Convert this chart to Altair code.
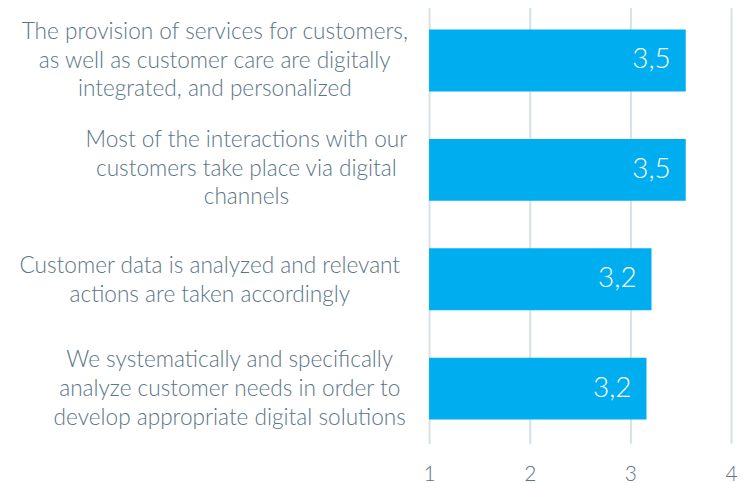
import altair as alt
import pandas as pd

categories = [
    "The provision of services for customers,\nas well as customer care are digitally\nintegrated, and personalized",
    "Most of the interactions with our\ncustomers  take place via digital\nchannels",
    "Customer data is analyzed and relevant\nactions are taken accordingly",
    "We systematically and specifically\nanalyze customer needs in order to\ndevelop appropriate digital solutions",
]
values = [3.55, 3.55, 3.21, 3.16]
value_labels = ["3,5", "3,5", "3,2", "3,2"]
label_dx = [-215, -183.3, -220, -200]
label_dy = [-28.5, -30, -13, -28.5]

FONT = "Lato"
TEXT = "#5a7587"

df = pd.DataFrame({"cat": categories, "val": values, "lab": value_labels, "base": [1] * 4})

x = alt.X(
    "val:Q",
    scale=alt.Scale(domain=[1, 4], nice=False, zero=False),
    axis=alt.Axis(
        values=[1, 2, 3, 4], format="d", title=None, domain=False, ticks=False,
        grid=True, gridColor="#d6e1e6", gridWidth=2, labelFlush=False,
        labelFont=FONT, labelFontSize=21, labelFontWeight=300, labelColor=TEXT, labelPadding=20,
    ),
)
y = alt.Y(
    "cat:N", sort=categories,
    scale=alt.Scale(paddingInner=0.435, paddingOuter=0.2175),
    axis=None,
)

bars = alt.Chart(df).mark_bar(color="#00aeef").encode(x=x, x2="base:Q", y=y)
vals = alt.Chart(df).mark_text(
    align="right", baseline="middle", dx=-15, color="white", font=FONT, fontSize=28, fontWeight=300
).encode(x=alt.X("val:Q"), y=alt.Y("cat:N", sort=categories), text="lab:N")

layers = [bars, vals]
for cat, dx, dy in zip(categories, label_dx, label_dy):
    layers.append(
        alt.Chart(df[df["cat"] == cat]).mark_text(
            align="center", baseline="middle", lineBreak="\n", lineHeight=28.8, dx=dx, dy=dy,
            color=TEXT, font=FONT, fontSize=22.7, fontWeight=300,
        ).encode(x=alt.value(0), y=alt.Y("cat:N", sort=categories), text="cat:N")
    )

chart = alt.layer(*layers).properties(
    width=303, height=439,
    autosize=alt.AutoSizeParams(type="none"),
    padding={"left": 422.5, "top": -3, "right": 10, "bottom": 39},
).configure_view(stroke=None)

chart.save("out.html", embed_options={"renderer": "svg", "actions": False})
